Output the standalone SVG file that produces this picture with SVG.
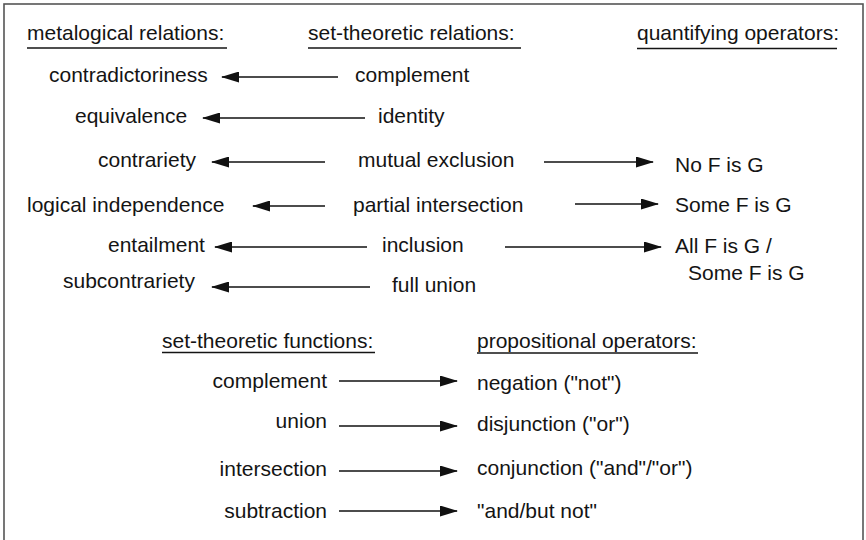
<svg xmlns="http://www.w3.org/2000/svg" width="866" height="540" viewBox="0 0 866 540">
  <defs>
    <style>
      text { font-family: "Liberation Sans", Arial, Helvetica, sans-serif; font-size: 21px; fill: #141414; }
      .ul { stroke: #141414; stroke-width: 1.6; }
      .arr { stroke: #111; stroke-width: 1.6; fill: none; marker-end: url(#head); }
    </style>
    <marker id="head" viewBox="0 0 18 11" markerWidth="18" markerHeight="11" refX="17" refY="5.5" orient="auto" markerUnits="userSpaceOnUse">
      <path d="M0,0 L18,5.5 L0,11 Z" fill="#111"/>
    </marker>
  </defs>

  <rect x="0" y="0" width="866" height="540" fill="#fff"/>
  <!-- frame (bottom edge runs past the canvas) -->
  <rect x="4" y="4" width="859" height="540" fill="none" stroke="#555" stroke-width="1.6"/>

  <!-- column headings -->
  <g id="head-metalogical">
    <text x="27" y="40">metalogical relations:</text>
    <line class="ul" x1="27" y1="48" x2="227" y2="48"/>
  </g>
  <g id="head-set-relations">
    <text x="308" y="40">set-theoretic relations:</text>
    <line class="ul" x1="308" y1="48" x2="521" y2="48"/>
  </g>
  <g id="head-quantifying">
    <text x="637" y="40">quantifying operators:</text>
    <line class="ul" x1="637" y1="48.5" x2="837" y2="48.5"/>
  </g>

  <!-- metalogical relations -->
  <g id="contradictoriness"><text x="49" y="82">contradictoriness</text></g>
  <g id="equivalence"><text x="75" y="123">equivalence</text></g>
  <g id="contrariety"><text x="98" y="167">contrariety</text></g>
  <g id="logical-independence"><text x="27" y="212">logical independence</text></g>
  <g id="entailment"><text x="108" y="252">entailment</text></g>
  <g id="subcontrariety"><text x="63" y="288">subcontrariety</text></g>

  <!-- set-theoretic relations -->
  <g id="complement-rel"><text x="355" y="82">complement</text></g>
  <g id="identity"><text x="378" y="123">identity</text></g>
  <g id="mutual-exclusion"><text x="358" y="167">mutual exclusion</text></g>
  <g id="partial-intersection"><text x="353" y="212">partial intersection</text></g>
  <g id="inclusion"><text x="382" y="252">inclusion</text></g>
  <g id="full-union"><text x="392" y="292">full union</text></g>

  <!-- quantifying operators -->
  <g id="no-f-is-g"><text x="675" y="172">No F is G</text></g>
  <g id="some-f-is-g"><text x="675" y="212">Some F is G</text></g>
  <g id="all-f-is-g">
    <text x="675" y="253">All F is G /</text>
    <text x="688" y="280">Some F is G</text>
  </g>

  <!-- lower headings -->
  <g id="head-set-functions">
    <text x="162" y="348">set-theoretic functions:</text>
    <line class="ul" x1="162" y1="352.5" x2="375" y2="352.5"/>
  </g>
  <g id="head-propositional">
    <text x="477" y="348">propositional operators:</text>
    <line class="ul" x1="477" y1="353" x2="698" y2="353"/>
  </g>

  <!-- set-theoretic functions -->
  <g id="complement-fn"><text x="327" y="388" text-anchor="end">complement</text></g>
  <g id="union"><text x="327" y="428" text-anchor="end">union</text></g>
  <g id="intersection"><text x="327" y="476" text-anchor="end">intersection</text></g>
  <g id="subtraction"><text x="327" y="518" text-anchor="end">subtraction</text></g>

  <!-- propositional operators -->
  <g id="negation"><text x="477" y="390">negation ("not")</text></g>
  <g id="disjunction"><text x="477" y="431">disjunction ("or")</text></g>
  <g id="conjunction"><text x="477" y="475">conjunction ("and"/"or")</text></g>
  <g id="and-but-not"><text x="477" y="518">"and/but not"</text></g>

  <!-- connectors -->
  <g id="connectors">
    <line class="arr" x1="338" y1="77" x2="222" y2="77"/>
    <line class="arr" x1="365" y1="118" x2="203" y2="118"/>
    <line class="arr" x1="325" y1="162" x2="212" y2="162"/>
    <line class="arr" x1="325" y1="206" x2="253" y2="206"/>
    <line class="arr" x1="367" y1="247" x2="215" y2="247"/>
    <line class="arr" x1="370" y1="287" x2="212" y2="287"/>

    <line class="arr" x1="544" y1="162" x2="653" y2="162"/>
    <line class="arr" x1="575" y1="204" x2="658" y2="204"/>
    <line class="arr" x1="505" y1="247" x2="661" y2="247"/>

    <line class="arr" x1="339" y1="381" x2="457" y2="381"/>
    <line class="arr" x1="339" y1="426" x2="457" y2="426"/>
    <line class="arr" x1="339" y1="471" x2="457" y2="471"/>
    <line class="arr" x1="339" y1="511" x2="457" y2="511"/>
  </g>
</svg>
